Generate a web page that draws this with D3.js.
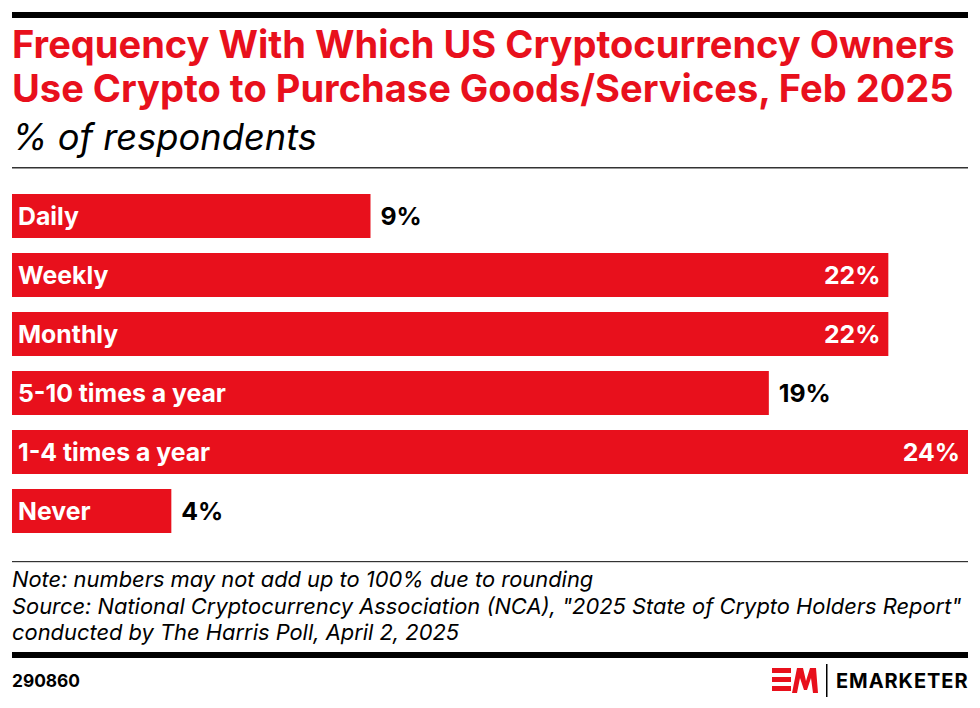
<!DOCTYPE html>
<html><head><meta charset="utf-8">
<script src="https://cdn.jsdelivr.net/npm/d3@7"></script>
<style>html,body{margin:0;padding:0;background:#fff;}svg{display:block;}</style>
</head><body>
<svg id="c" width="980" height="708"></svg>
<script>
const categories = ["Daily","Weekly","Monthly","5-10 times a year","1-4 times a year","Never"];
const values = [9,22,22,19,24,4];
const valueLabels = ["9%","22%","22%","19%","24%","4%"];
const titleLines = ["Frequency With Which US Cryptocurrency Owners","Use Crypto to Purchase Goods/Services, Feb 2025"];
const subtitle = "% of respondents";
const noteLines = ["Note: numbers may not add up to 100% due to rounding",
 "Source: National Cryptocurrency Association (NCA), \"2025 State of Crypto Holders Report\"",
 "conducted by The Harris Poll, April 2, 2025"];
const chartId = "290860";

const RED = "#e8101c";
const FONT = "Inter, 'Open Sans', sans-serif";
const svg = d3.select("#c");

function fitSize(text, weight, style, target){
  const t = svg.append("text").attr("font-family",FONT).attr("font-weight",weight)
    .attr("font-style",style).attr("font-size",100).text(text);
  const w = t.node().getComputedTextLength(); t.remove();
  return 100*target/w;
}

// top rule
svg.append("rect").attr("x",12).attr("y",12).attr("width",956).attr("height",6).attr("fill","#000");

// title
const tSize = fitSize(titleLines[0],700,"normal",943);
svg.selectAll(".title").data(titleLines).join("text")
  .attr("x",12).attr("y",(d,i)=>58+i*44)
  .attr("font-family",FONT).attr("font-weight",700).attr("font-size",tSize)
  .attr("fill",RED).text(d=>d);
const sSize = fitSize(subtitle,400,"italic",305);
svg.append("text").attr("x",12).attr("y",150).attr("font-family",FONT).attr("font-style","italic")
  .attr("font-size",sSize).attr("fill","#000").text(subtitle);
svg.append("rect").attr("x",12).attr("y",167).attr("width",956).attr("height",1.5).attr("fill","#333");

// scales
const x = d3.scaleLinear().domain([0,24]).range([12,968]);
const y = d3.scaleBand().domain(categories).range([194,533]).paddingInner(15/59).paddingOuter(0);
const data = categories.map((c,i)=>({c, v:values[i], l:valueLabels[i]}));

svg.selectAll(".bar").data(data).join("rect")
  .attr("x",x(0)).attr("y",d=>y(d.c)).attr("width",d=>x(d.v)-x(0)).attr("height",y.bandwidth())
  .attr("fill",RED);

const lSize = fitSize("5-10 times a year",700,"normal",208);
svg.selectAll(".cat").data(data).join("text")
  .attr("x",18).attr("y",d=>y(d.c)+y.bandwidth()/2).attr("dy","0.36em")
  .attr("font-family",FONT).attr("font-weight",700).attr("font-size",lSize)
  .attr("fill","#fff").text(d=>d.c);

svg.selectAll(".val").data(data).join("text")
  .attr("x",d=> d.v>20 ? x(d.v)-8 : x(d.v)+10)
  .attr("text-anchor",d=> d.v>20 ? "end":"start")
  .attr("y",d=>y(d.c)+y.bandwidth()/2).attr("dy","0.36em")
  .attr("font-family",FONT).attr("font-weight",700).attr("font-size",lSize)
  .attr("fill",d=> d.v>20 ? "#fff":"#000").text(d=>d.l);

// footer
svg.append("rect").attr("x",12).attr("y",561).attr("width",956).attr("height",1.2).attr("fill","#333");
const nSize = fitSize(noteLines[1],400,"italic",950);
svg.selectAll(".note").data(noteLines).join("text")
  .attr("x",12).attr("y",(d,i)=>587+i*26.5)
  .attr("font-family",FONT).attr("font-style","italic").attr("font-size",nSize)
  .attr("fill","#000").text(d=>d);
svg.append("rect").attr("x",12).attr("y",652).attr("width",956).attr("height",6).attr("fill","#000");

const idSize = fitSize(chartId,700,"normal",68);
svg.append("text").attr("x",12).attr("y",687).attr("font-family",FONT).attr("font-weight",700)
  .attr("font-size",idSize).attr("fill","#000").text(chartId);

// logo
const g = svg.append("g");
[0,1,2].forEach(i=>{
  g.append("rect").attr("x",772).attr("y",668+i*9).attr("width",19).attr("height",5).attr("fill",RED);
});
g.append("path").attr("d","M792,693 L797,668 L803,668 L806,681 L810,668 L816,668 L818,693 L813,693 L811,678 L807,690 L804,690 L800,678 L797,693 Z").attr("fill",RED);
g.append("rect").attr("x",826).attr("y",664).attr("width",1.5).attr("height",33).attr("fill","#000");
const eSize = 20;
const et = svg.append("text").attr("x",836).attr("y",688).attr("font-family",FONT).attr("font-weight",700)
  .attr("font-size",eSize).attr("fill","#000").text("EMARKETER");
const ew = et.node().getComputedTextLength();
et.attr("letter-spacing", (132-ew)/8.5);
</script>
</body></html>
